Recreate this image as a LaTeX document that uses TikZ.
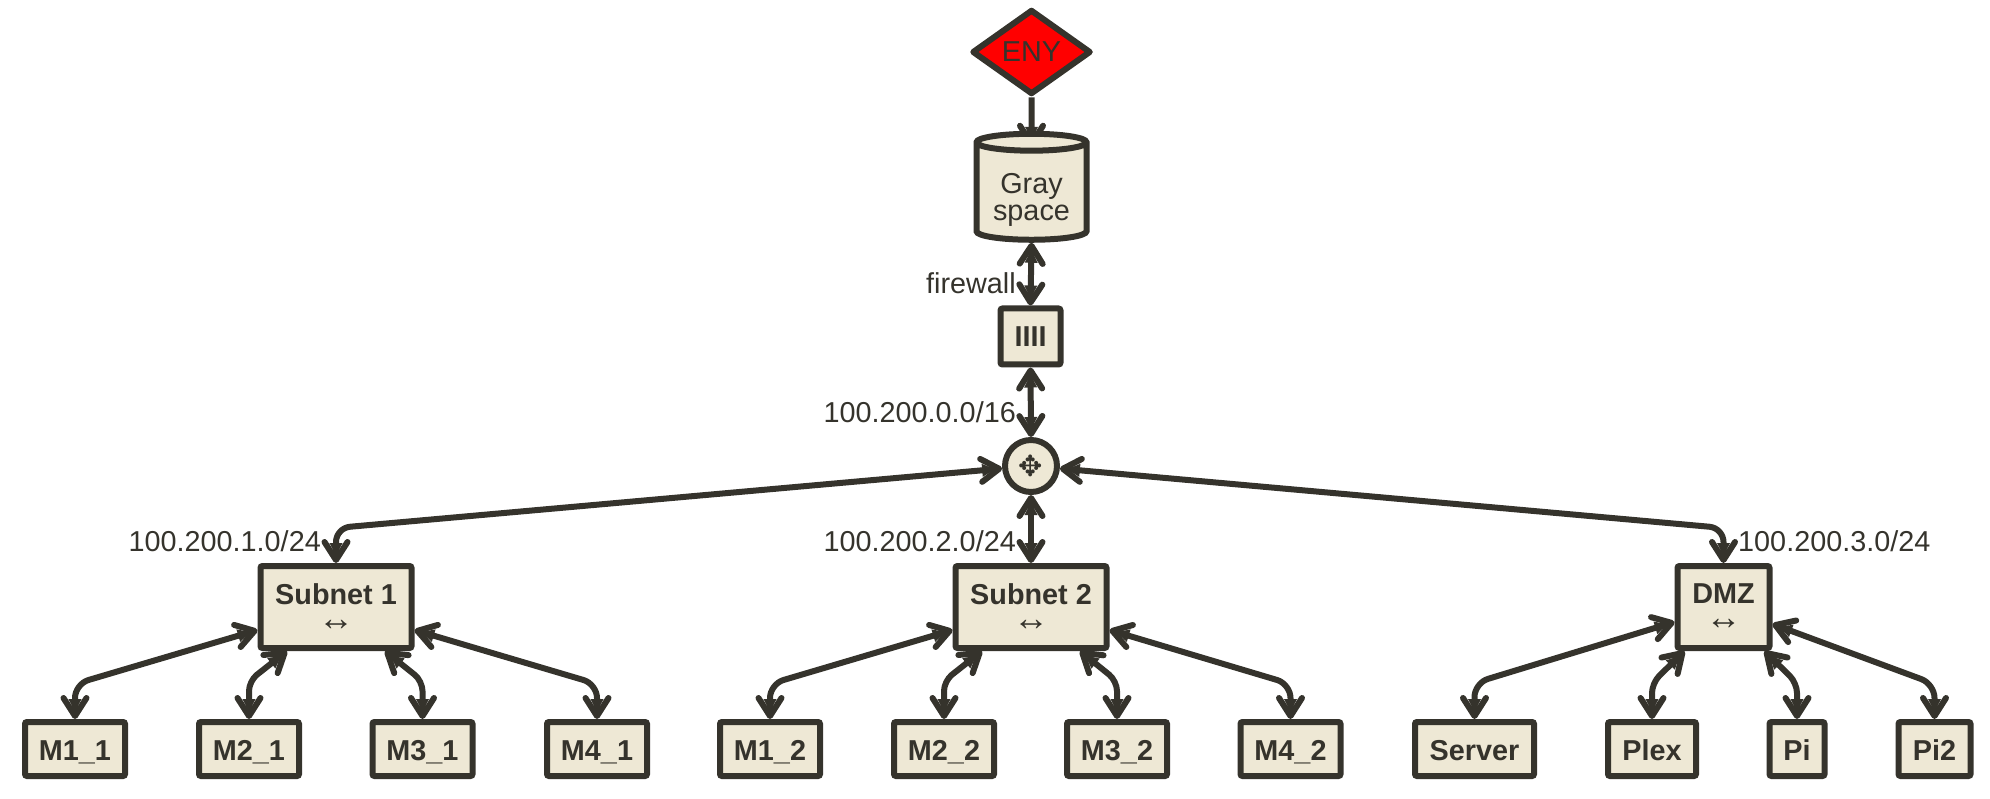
\documentclass[tikz,border=0pt]{standalone}
\usepackage{fontspec}
\setmainfont{Liberation Sans}
\newfontfamily\symfnt{DejaVu Sans}
\usetikzlibrary{shapes.geometric,arrows.meta,backgrounds}
\definecolor{ink}{HTML}{35332C}
\definecolor{paper}{HTML}{EEE8D5}
\tikzset{
  x=1pt,y=-1pt,
  every node/.style={text=ink,inner sep=0pt,font=\fontsize{28.8}{30}\selectfont},
  boxnode/.style={draw=ink,fill=paper,line width=6pt,rounded corners=2pt,align=center,font=\fontsize{28.8}{30}\selectfont\bfseries},
  leafnode/.style={boxnode,minimum height=54pt,text height=23.5pt,text depth=0pt},
  subnode/.style={boxnode,minimum height=82pt},
  lbl/.style={anchor=base east},
  head/.tip={Stealth[length=13pt,width=12pt,inset=0pt,sep=-17pt]Straight Barb[length=18pt,width=23pt,round]},
  link/.style={draw=ink,line width=6pt,line join=round,{head}-{head}},
  bent/.style={link,rounded corners=14pt},
  benttight/.style={link,rounded corners=10pt},
}
\newcommand{\arr}{{\mdseries\fontsize{36}{28}\selectfont ↔}}
\begin{document}
\begin{tikzpicture}
\useasboundingbox (0,0) rectangle (1990,799);
% nodes
\node[diamond,draw=ink,fill=red,line width=6pt,line join=round,minimum width=119pt,minimum height=85pt,aspect=1.4] (eny) at (1031.5,52) {ENY};
\node[cylinder,shape border rotate=90,draw=ink,line width=6pt,cylinder uses custom fill,cylinder body fill=paper,cylinder end fill=paper,aspect=0.22,minimum width=110pt,minimum height=106pt,align=center] (gray) at (1031.5,192.5) {\raisebox{-15pt}[22pt][22pt]{\begin{tabular}{@{}c@{}}Gray\\[-3pt]space\end{tabular}}};
\node[boxnode,minimum width=60pt,minimum height=56pt] (fw) at (1030.5,336.5) {IIII};
\node[circle,draw=ink,fill=paper,line width=6pt,minimum size=52pt,font=\symfnt\fontsize{29}{30}\selectfont] (hub) at (1031,466) {✥};
\node[subnode,minimum width=151pt] (s1) at (336,607) {\raisebox{-1pt}{Subnet 1}\\[-3pt]\arr};
\node[subnode,minimum width=151pt] (s2) at (1031,607) {\raisebox{-1pt}{Subnet 2}\\[-3pt]\arr};
\node[subnode,minimum width=92pt] (dmz) at (1723.5,607) {\raisebox{-1pt}{DMZ}\\[-3pt]\arr};
\node[leafnode,minimum width=100pt] (m11) at (75,749) {M1\_1};
\node[leafnode,minimum width=100pt] (m21) at (249,749) {M2\_1};
\node[leafnode,minimum width=100pt] (m31) at (422.5,749) {M3\_1};
\node[leafnode,minimum width=100pt] (m41) at (597,749) {M4\_1};
\node[leafnode,minimum width=100pt] (m12) at (770,749) {M1\_2};
\node[leafnode,minimum width=100pt] (m22) at (944,749) {M2\_2};
\node[leafnode,minimum width=100pt] (m32) at (1117,749) {M3\_2};
\node[leafnode,minimum width=100pt] (m42) at (1290.5,749) {M4\_2};
\node[leafnode,minimum width=119pt] (srv) at (1474.5,749) {Server};
\node[leafnode,minimum width=88pt] (plex) at (1652,749) {Plex};
\node[leafnode,minimum width=55pt] (pi) at (1797,749) {Pi};
\node[leafnode,minimum width=72pt] (pi2) at (1934.5,749) {Pi2};
% labels
\node[lbl] (lfw) at (1016,294) {firewall};
\node[lbl] (lhub) at (1016,423) {100.200.0.0/16};
\node[lbl] (ls1) at (321,551) {100.200.1.0/24};
\node[lbl] (ls2) at (1016,551) {100.200.2.0/24};
\node[anchor=base west] (ldmz) at (1738,551) {100.200.3.0/24};
% corner points
\coordinate (ch1) at (336,528);
\coordinate (ch3) at (1723.5,528);
\coordinate (c11) at (75,684);
\coordinate (c21) at (249,681);
\coordinate (c31) at (422.5,681);
\coordinate (c41) at (597,684);
\coordinate (c12) at (770,684);
\coordinate (c22) at (944,681);
\coordinate (c32) at (1117,681);
\coordinate (c42) at (1290.5,684);
\coordinate (c13) at (1474.5,683);
\coordinate (c23) at (1652,683);
\coordinate (c33) at (1797,683);
\coordinate (c43) at (1934.5,684);
% connectors
\begin{scope}[on background layer]
\draw[draw=ink,line width=6pt,-{head}] (eny.south) -- ([yshift=-16pt]gray.north);
\end{scope}
\draw[link] (gray.south) -- (fw.north);
\draw[link] (fw.south) -- (hub.north);
\draw[link] (hub.south) -- (s2.north);
\draw[bent] (hub.185) -- (ch1) -- (s1.north);
\draw[bent] (hub.-5) -- (ch3) -- (dmz.north);
\draw[bent] ([yshift=-23pt]s1.west) -- (c11) -- (m11.north);
\draw[benttight] ([xshift=-49pt]s1.south) -- (c21) -- (m21.north);
\draw[benttight] ([xshift=49pt]s1.south) -- (c31) -- (m31.north);
\draw[bent] ([yshift=-23pt]s1.east) -- (c41) -- (m41.north);
\draw[bent] ([yshift=-23pt]s2.west) -- (c12) -- (m12.north);
\draw[benttight] ([xshift=-49pt]s2.south) -- (c22) -- (m22.north);
\draw[benttight] ([xshift=49pt]s2.south) -- (c32) -- (m32.north);
\draw[bent] ([yshift=-23pt]s2.east) -- (c42) -- (m42.north);
\draw[bent] ([yshift=-15pt]dmz.west) -- (c13) -- (srv.north);
\draw[benttight] ([xshift=-39pt]dmz.south) -- (c23) -- (plex.north);
\draw[benttight] ([xshift=41pt]dmz.south) -- (c33) -- (pi.north);
\draw[bent] ([yshift=-17pt]dmz.east) -- (c43) -- (pi2.north);
\end{tikzpicture}
\end{document}
